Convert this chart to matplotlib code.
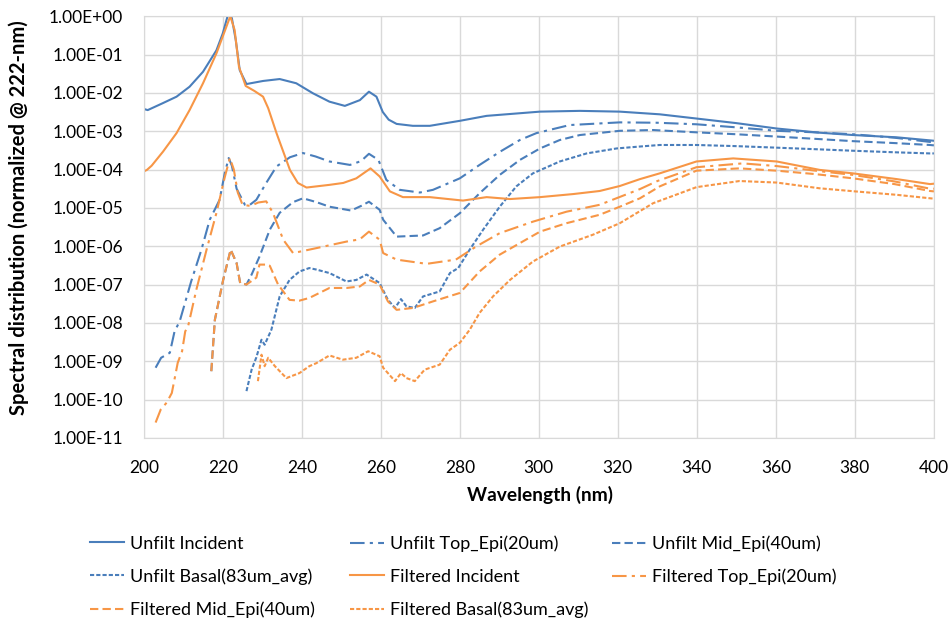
import matplotlib
matplotlib.use("Agg")
import matplotlib.pyplot as plt
import matplotlib.ticker as mticker
import numpy as np

# values, stored as log10 of the spectral distribution
unfilt_inc_x = [200, 201, 204.8, 208.3, 211.6, 215, 218.4, 220, 221.3, 222.3, 223.3, 224.3, 226,
                230.2, 234.4, 238.6, 242.8, 247, 250.9, 254.7, 257, 258.9, 260.5, 262, 264, 268.1,
                272.4, 280, 286.8, 300.3, 310.4, 320.5, 330.6, 339.9, 350, 360.2, 371.1, 379.5,
                390.6, 399, 400]
unfilt_inc_log = [-2.42, -2.45, -2.27, -2.10, -1.84, -1.45, -0.89, -0.45, 0.03, -0.05, -0.63, -1.41,
                  -1.77, -1.69, -1.64, -1.75, -2.01, -2.23, -2.34, -2.19, -1.97, -2.10, -2.50,
                  -2.70, -2.81, -2.86, -2.86, -2.73, -2.60, -2.49, -2.47, -2.49, -2.56, -2.67, -2.79,
                  -2.93, -3.04, -3.10, -3.16, -3.24, -3.25]

unfilt_top_x = [203, 204.4, 206.6, 207.8, 209.1, 212, 214.6, 216.7, 219.2, 220.5, 221.5, 222.3,
                223.5, 225.6, 226.5, 228.5, 231, 233.6, 237, 240.3, 243.5, 247, 252.2, 255, 257,
                259.4, 261.4, 264.8, 269.9, 273.2, 280, 285, 290.1, 295.2, 299.4, 307.8, 320.5,
                330, 339.9, 350, 360.2, 370, 379.5, 390, 399, 400]
unfilt_top_log = [-9.17, -8.91, -8.78, -8.22, -7.96, -6.92, -6.09, -5.31, -4.79, -4.10, -3.70, -3.90,
                  -4.50, -4.92, -4.95, -4.79, -4.35, -3.92, -3.68, -3.57, -3.66, -3.79, -3.88,
                  -3.78, -3.59, -3.75, -4.27, -4.53, -4.60, -4.53, -4.23, -3.88, -3.54, -3.23,
                  -3.05, -2.84, -2.77, -2.78, -2.82, -2.90, -2.99, -3.03, -3.08, -3.17, -3.28, -3.29]

unfilt_mid_x = [217.1, 218, 220.1, 222, 223.5, 224.4, 226, 227.3, 229.3, 231.9, 234.4, 237.8,
                240.3, 243.7, 247, 252.5, 255, 257, 259.7, 260.6, 264, 270.7, 274.9, 280, 285,
                290.1, 295.2, 300.3, 305.3, 310.4, 320.5, 328.9, 339.9, 350, 360.2, 370, 379.5,
                390, 399, 400]
unfilt_mid_log = [-9.26, -7.92, -6.88, -6.09, -6.44, -6.96, -7.00, -6.74, -6.27, -5.57, -5.13, -4.85,
                  -4.75, -4.85, -4.97, -5.07, -4.95, -4.84, -5.05, -5.31, -5.75, -5.72, -5.53, -5.14,
                  -4.62, -4.14, -3.75, -3.45, -3.23, -3.10, -2.99, -2.97, -3.03, -3.08, -3.14, -3.20,
                  -3.26, -3.31, -3.36, -3.37]

unfilt_bas_x = [226, 227.3, 228.5, 229.8, 230.6, 232.3, 234.4, 236.9, 239.4, 241.9, 243.7, 247,
                251.3, 253.8, 256.4, 259.7, 261.8, 263.6, 265.1, 266.5, 268.6, 270.7, 274.9, 277.5,
                279.6, 282.5, 285.9, 290.1, 294.3, 298.5, 305.3, 312.1, 319.7, 325.6, 330.6, 339.9,
                350, 360.2, 370, 379.5, 390, 399, 400]
unfilt_bas_log = [-9.78, -9.22, -8.90, -8.44, -8.57, -8.18, -7.31, -6.88, -6.66, -6.57, -6.61, -6.70,
                  -6.92, -6.88, -6.74, -6.96, -7.40, -7.61, -7.38, -7.57, -7.61, -7.31, -7.18, -6.70,
                  -6.57, -6.09, -5.57, -4.97, -4.44, -4.10, -3.79, -3.58, -3.45, -3.40, -3.36, -3.36,
                  -3.39, -3.43, -3.47, -3.51, -3.55, -3.58, -3.58]

filt_inc_x = [200, 200.8, 202, 204.9, 208.3, 211.6, 215, 218.4, 220.9, 221.9, 223, 224.1, 225.8,
              228, 230.2, 231.5, 233.6, 237, 239, 241.2, 247, 250.5, 253.8, 257.4, 259.7, 262.3,
              265.6, 272.4, 280.8, 286.8, 292.7, 300.3, 308.7, 315.4, 320.5, 325.6, 330.6, 339.9,
              349.2, 360.2, 371.1, 379.5, 390.6, 399, 400]
filt_inc_log = [-4.05, -4.01, -3.90, -3.53, -3.05, -2.45, -1.75, -0.97, -0.28, 0.0, -0.36, -1.32,
                -1.82, -1.95, -2.10, -2.40, -3.05, -4.01, -4.35, -4.47, -4.40, -4.35, -4.23, -3.97,
                -4.18, -4.57, -4.72, -4.72, -4.81, -4.72, -4.77, -4.72, -4.64, -4.56, -4.43, -4.25,
                -4.10, -3.79, -3.71, -3.79, -4.01, -4.10, -4.25, -4.38, -4.37]

filt_top_x = [203, 204.3, 205.8, 207.1, 207.6, 208.6, 209.7, 210.5, 211.2, 213.3, 215.9, 218.4,
              220.5, 221.8, 222.8, 223.8, 225, 227, 229, 231, 232.7, 235.3, 237.8, 243.7, 251.3,
              254.7, 257, 259.7, 260.6, 264, 271.6, 279, 284.1, 290.1, 298.5, 307, 315.4, 325.6,
              330, 339.9, 351.6, 360.2, 370, 379.5, 390, 399, 400]
filt_top_log = [-10.60, -10.26, -10.08, -9.83, -9.57, -9.04, -8.74, -8.22, -8.10, -7.14, -6.09,
                -5.13, -4.20, -3.70, -4.00, -4.60, -4.92, -4.95, -4.86, -4.83, -5.13, -5.83, -6.18,
                -6.05, -5.88, -5.82, -5.62, -5.83, -6.18, -6.35, -6.46, -6.35, -6.01, -5.66, -5.36,
                -5.10, -4.92, -4.51, -4.30, -3.94, -3.84, -3.91, -4.03, -4.14, -4.31, -4.50, -4.50]

filt_mid_x = [217.1, 218, 220.1, 222, 223.5, 224.4, 226, 228.5, 229.3, 231, 231.9, 234, 236.9,
              239.4, 241.9, 247, 251.3, 254.7, 257, 259.7, 261.8, 264, 268.2, 273.2, 280, 285,
              290.1, 295.2, 300.3, 307, 315.4, 320.5, 325.6, 330.6, 339.9, 350.8, 360.2, 370,
              379.5, 390, 399, 400]
filt_mid_log = [-9.26, -7.92, -6.88, -6.09, -6.44, -6.96, -7.00, -6.82, -6.48, -6.48, -6.51, -7.00,
                -7.40, -7.42, -7.35, -7.09, -7.09, -7.05, -6.88, -7.00, -7.44, -7.66, -7.61, -7.44,
                -7.22, -6.66, -6.22, -5.92, -5.62, -5.40, -5.18, -4.97, -4.75, -4.44, -4.03, -3.97,
                -4.03, -4.12, -4.23, -4.38, -4.56, -4.57]

filt_bas_x = [228.9, 229.8, 230.6, 231.5, 233.2, 236.1, 239.4, 241.9, 243.7, 247, 250.4, 253.8,
              256.8, 259.7, 260.6, 263.6, 265.1, 266.5, 268.6, 271.1, 274.9, 277.5, 280, 282.5,
              285, 288.4, 292.7, 298.5, 305.3, 313.7, 320.5, 328.9, 339.9, 350.8, 360.2, 371.1,
              380, 390.6, 399, 400]
filt_bas_log = [-9.52, -8.83, -9.13, -8.91, -9.13, -9.44, -9.31, -9.13, -9.05, -8.85, -8.96, -8.91,
                -8.74, -8.87, -9.17, -9.52, -9.31, -9.44, -9.52, -9.22, -9.09, -8.70, -8.52, -8.18,
                -7.74, -7.31, -6.88, -6.40, -6.01, -5.70, -5.40, -4.88, -4.46, -4.30, -4.34, -4.49,
                -4.57, -4.66, -4.75, -4.76]

labels = ["Unfilt Incident", "Unfilt Top_Epi(20um)", "Unfilt Mid_Epi(40um)",
          "Unfilt Basal(83um_avg)", "Filtered Incident", "Filtered Top_Epi(20um)",
          "Filtered Mid_Epi(40um)", "Filtered Basal(83um_avg)"]

blue = "#4A7EBB"
orange = "#F79646"
solid = "-"
dashdot = (0, (7, 2.5, 1.5, 2.5))
dash = (0, (4, 2))
sysdash = (0, (2, 1))

series = [
    (unfilt_inc_x, unfilt_inc_log, blue, solid),
    (unfilt_top_x, unfilt_top_log, blue, dashdot),
    (unfilt_mid_x, unfilt_mid_log, blue, dash),
    (unfilt_bas_x, unfilt_bas_log, blue, sysdash),
    (filt_inc_x, filt_inc_log, orange, solid),
    (filt_top_x, filt_top_log, orange, dashdot),
    (filt_mid_x, filt_mid_log, orange, dash),
    (filt_bas_x, filt_bas_log, orange, sysdash),
]

plt.rcParams["font.family"] = ["Lato", "DejaVu Sans"]

fig = plt.figure(figsize=(9.52, 6.22), dpi=100)
ax = fig.add_axes([0.151, 0.296, 0.830, 0.678])

handles = []
for (x, lg, c, ls), lab in zip(series, labels):
    h, = ax.plot(x, 10 ** np.array(lg), color=c, linestyle=ls, linewidth=1.5, label=lab)
    handles.append(h)

ax.set_yscale("log")
ax.set_xlim(200, 400)
ax.set_ylim(1e-11, 1)
ax.set_xticks(np.arange(200, 401, 20))
ax.yaxis.set_major_locator(mticker.LogLocator(base=10, numticks=15))
ax.yaxis.set_minor_locator(mticker.NullLocator())
ax.yaxis.set_major_formatter(mticker.FuncFormatter(lambda v, p: f"{v:.2E}"))
ax.tick_params(length=0, labelsize=12.5, colors="black")
ax.tick_params(axis="x", pad=16)
ax.tick_params(axis="y", pad=15)
ax.grid(True, color="#D9D9D9", linewidth=1)
ax.set_axisbelow(True)
for s in ax.spines.values():
    s.set_color("#D9D9D9")

ax.set_xlabel("Wavelength (nm)", fontsize=13.8, fontweight="bold")
ax.xaxis.set_label_coords(0.501, -0.113)
ax.set_ylabel("Spectral distribution (normalized @ 222-nm)", fontsize=14.5,
              fontweight="bold")
ax.yaxis.set_label_coords(-0.145, 0.522)

# legend laid out as three equal-width columns, filled row by row
col_x = [90 / 952, 350 / 952, 612 / 952]
columns = [[0, 3, 6], [1, 4, 7], [2, 5]]
for cx, idx in zip(col_x, columns):
    leg = fig.legend([handles[i] for i in idx], [labels[i] for i in idx],
                     loc="upper left", bbox_to_anchor=(cx, 0.139), frameon=False,
                     fontsize=13, handlelength=1.9, handletextpad=0.3,
                     labelspacing=0.92, borderpad=0, borderaxespad=0)

fig.savefig("out.png", dpi=100)
